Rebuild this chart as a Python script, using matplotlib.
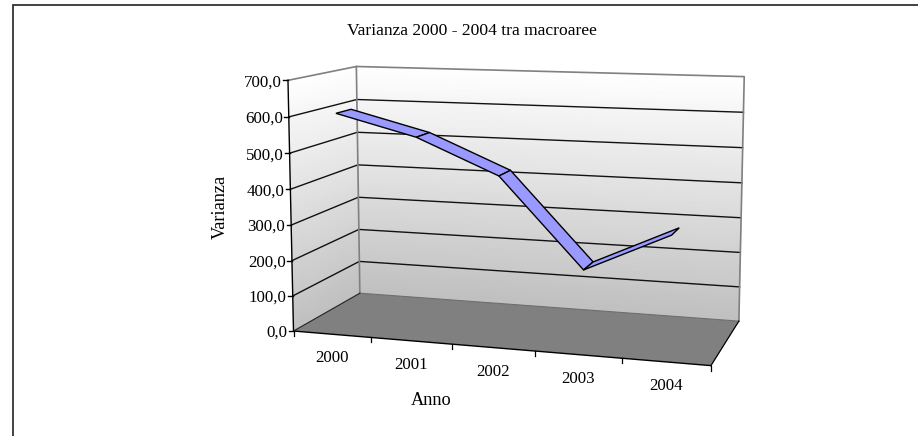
import numpy as np
import matplotlib
matplotlib.use("Agg")
import matplotlib.pyplot as plt
from matplotlib.colors import LinearSegmentedColormap
from matplotlib.transforms import Transform

years = ["2000", "2001", "2002", "2003", "2004"]
varianza = [608, 551, 456, 216, 323]
y_ticks = [0, 100, 200, 300, 400, 500, 600, 700]
y_labels = ["0,0", "100,0", "200,0", "300,0", "400,0", "500,0", "600,0", "700,0"]
title = "Varianza 2000 - 2004 tra macroaree"
xlabel = "Anno"
ylabel = "Varianza"

plt.rcParams["font.family"] = ["Liberation Serif", "DejaVu Serif"]
W, H = 918, 436
fig = plt.figure(figsize=(W / 100, H / 100), dpi=100, facecolor="white")
ax = fig.add_axes([0, 0, 1, 1])
ax.set_xlim(0, W)
ax.set_ylim(H, 0)
ax.axis("off")

# Camera of the box: (category, value, depth) in unit space -> figure pixels
corners = [((0, 0, 0), (293.4, 331.0)), ((0, 1, 0), (288.3, 80.0)),
           ((0, 0, 1), (360.0, 293.3)), ((0, 1, 1), (356.0, 66.7)),
           ((1, 1, 1), (744.3, 76.7)), ((1, 0, 1), (739.0, 320.7)),
           ((1, 0, 0), (710.7, 366.0))]
rows = []
for (a, b, c), (px, py) in corners:
    px, py = px / 1000, py / 1000
    rows.append([a, b, c, 1, 0, 0, 0, 0, -px * a, -px * b, -px * c, -px])
    rows.append([0, 0, 0, 0, a, b, c, 1, -py * a, -py * b, -py * c, -py])
P = np.linalg.svd(np.array(rows))[2][-1].reshape(3, 4)


def project(u, v, d):
    u, v, d = np.broadcast_arrays(np.asarray(u, float), np.asarray(v, float), np.asarray(d, float))
    q = P @ np.stack([u, v, d, np.ones_like(u)]).reshape(4, -1)
    return (1000 * q[0] / q[2]).reshape(u.shape), (1000 * q[1] / q[2]).reshape(u.shape)


class BoxPlane(Transform):
    """Category position and value on a plane of constant depth."""
    input_dims = 2
    output_dims = 2

    def __init__(self, plane_depth):
        super().__init__()
        self.plane_depth = plane_depth

    def transform_non_affine(self, values):
        values = np.asarray(values, float)
        x, y = project(values[:, 0] / len(years), values[:, 1] / y_ticks[-1], self.plane_depth)
        return np.column_stack([x, y])


front = BoxPlane(0) + ax.transData
n = len(years)
vmax = y_ticks[-1]

# Walls with vertical gradient
cmap = LinearSegmentedColormap.from_list("wall", ["#c0c0c0", "#ffffff"])
vv = np.linspace(0, 1, 30)
dd = np.linspace(0, 1, 2)
uu = np.linspace(0, 1, 2)
V, D = np.meshgrid(vv, dd, indexing="ij")
X, Y = project(0, V, D)
ax.pcolormesh(X, Y, V, cmap=cmap, shading="gouraud", vmin=0, vmax=1, zorder=1)
V, U = np.meshgrid(vv, uu, indexing="ij")
X, Y = project(U, V, 1)
ax.pcolormesh(X, Y, V, cmap=cmap, shading="gouraud", vmin=0, vmax=1, zorder=1)

# Floor
fx, fy = project([0, 1, 1, 0], [0, 0, 0, 0], [0, 0, 1, 1])
ax.fill(fx, fy, color="#808080", lw=0, zorder=2)

# Grid lines on both walls
for t in y_ticks[1:-1]:
    lx, ly = project([0, 0, 1], [t / vmax] * 3, [0, 1, 1])
    ax.plot(lx, ly, color="#111111", lw=1.0, zorder=3)

# Grey wall outlines
lx, ly = project([0, 0, 1, 1], [1, 1, 1, 0], [0, 1, 1, 1])
ax.plot(lx, ly, color="#808080", lw=1.2, zorder=3)
lx, ly = project([0, 0], [0, 1], [1, 1])
ax.plot(lx, ly, color="#808080", lw=1.2, zorder=3)
lx, ly = project([0, 1], [0, 0], [1, 1])
ax.plot(lx, ly, color="#6e6e6e", lw=0.8, zorder=3)

# Axes lines (black)
ax.plot([0, 0, n], [vmax, 0, 0], color="black", lw=1.0, transform=front, zorder=4, solid_joinstyle="miter")
lx, ly = project([0, 0], [0, 0], [0, 1])
ax.plot(lx, ly, color="#222222", lw=0.8, zorder=4)
lx, ly = project([1, 1], [0, 0], [0, 1])
ax.plot(lx, ly, color="black", lw=0.9, zorder=4)

# Value ticks and labels
for t, lab in zip(y_ticks, y_labels):
    x0, y0 = project(0, t / vmax, 0)
    ax.plot([x0 - 4.5, x0], [y0, y0], color="black", lw=1.0, zorder=4)
    ax.text(x0 - 6, y0 + 2, lab, ha="right", va="center", fontsize=12.2, color="black")

# Category ticks and labels
for i in range(n + 1):
    x0, y0 = project(i / n, 0, 0)
    ax.plot([x0, x0], [y0, y0 + 5], color="black", lw=0.9, zorder=4)
for i, lab in enumerate(years):
    x0, y0 = project((i + 0.5) / n, 0, 0)
    ax.text(x0, y0 + 24, lab, ha="center", va="center", fontsize=12.2, color="black")

# The series as a ribbon
D0, D1 = 0.11, 0.33
u = (np.arange(n) + 0.5) / n
v = np.array(varianza) / vmax
fxs, fys = project(u, v, D0)
bxs, bys = project(u, v, D1)
for i in range(n - 1):
    ax.fill([fxs[i], fxs[i + 1], bxs[i + 1], bxs[i]],
            [fys[i], fys[i + 1], bys[i + 1], bys[i]],
            facecolor="#9999ff", edgecolor="black", lw=1.0, zorder=5, joinstyle="miter")

# Chart frame: only the left and top sides are visible
ax.plot([12.5, 12.5, W], [H, 5.5, 5.5], color="#333333", lw=1.3, zorder=6, solid_joinstyle="miter")

# Titles
ax.text(472, 31, title, ha="center", va="center", fontsize=12.6, color="black")
ax.text(431, 400, xlabel, ha="center", va="center", fontsize=13.2, color="black")
ax.text(220.5, 206.5, ylabel, ha="center", va="center", rotation=90, fontsize=13.2, color="black")

fig.savefig("out.png", dpi=100, facecolor="white")
